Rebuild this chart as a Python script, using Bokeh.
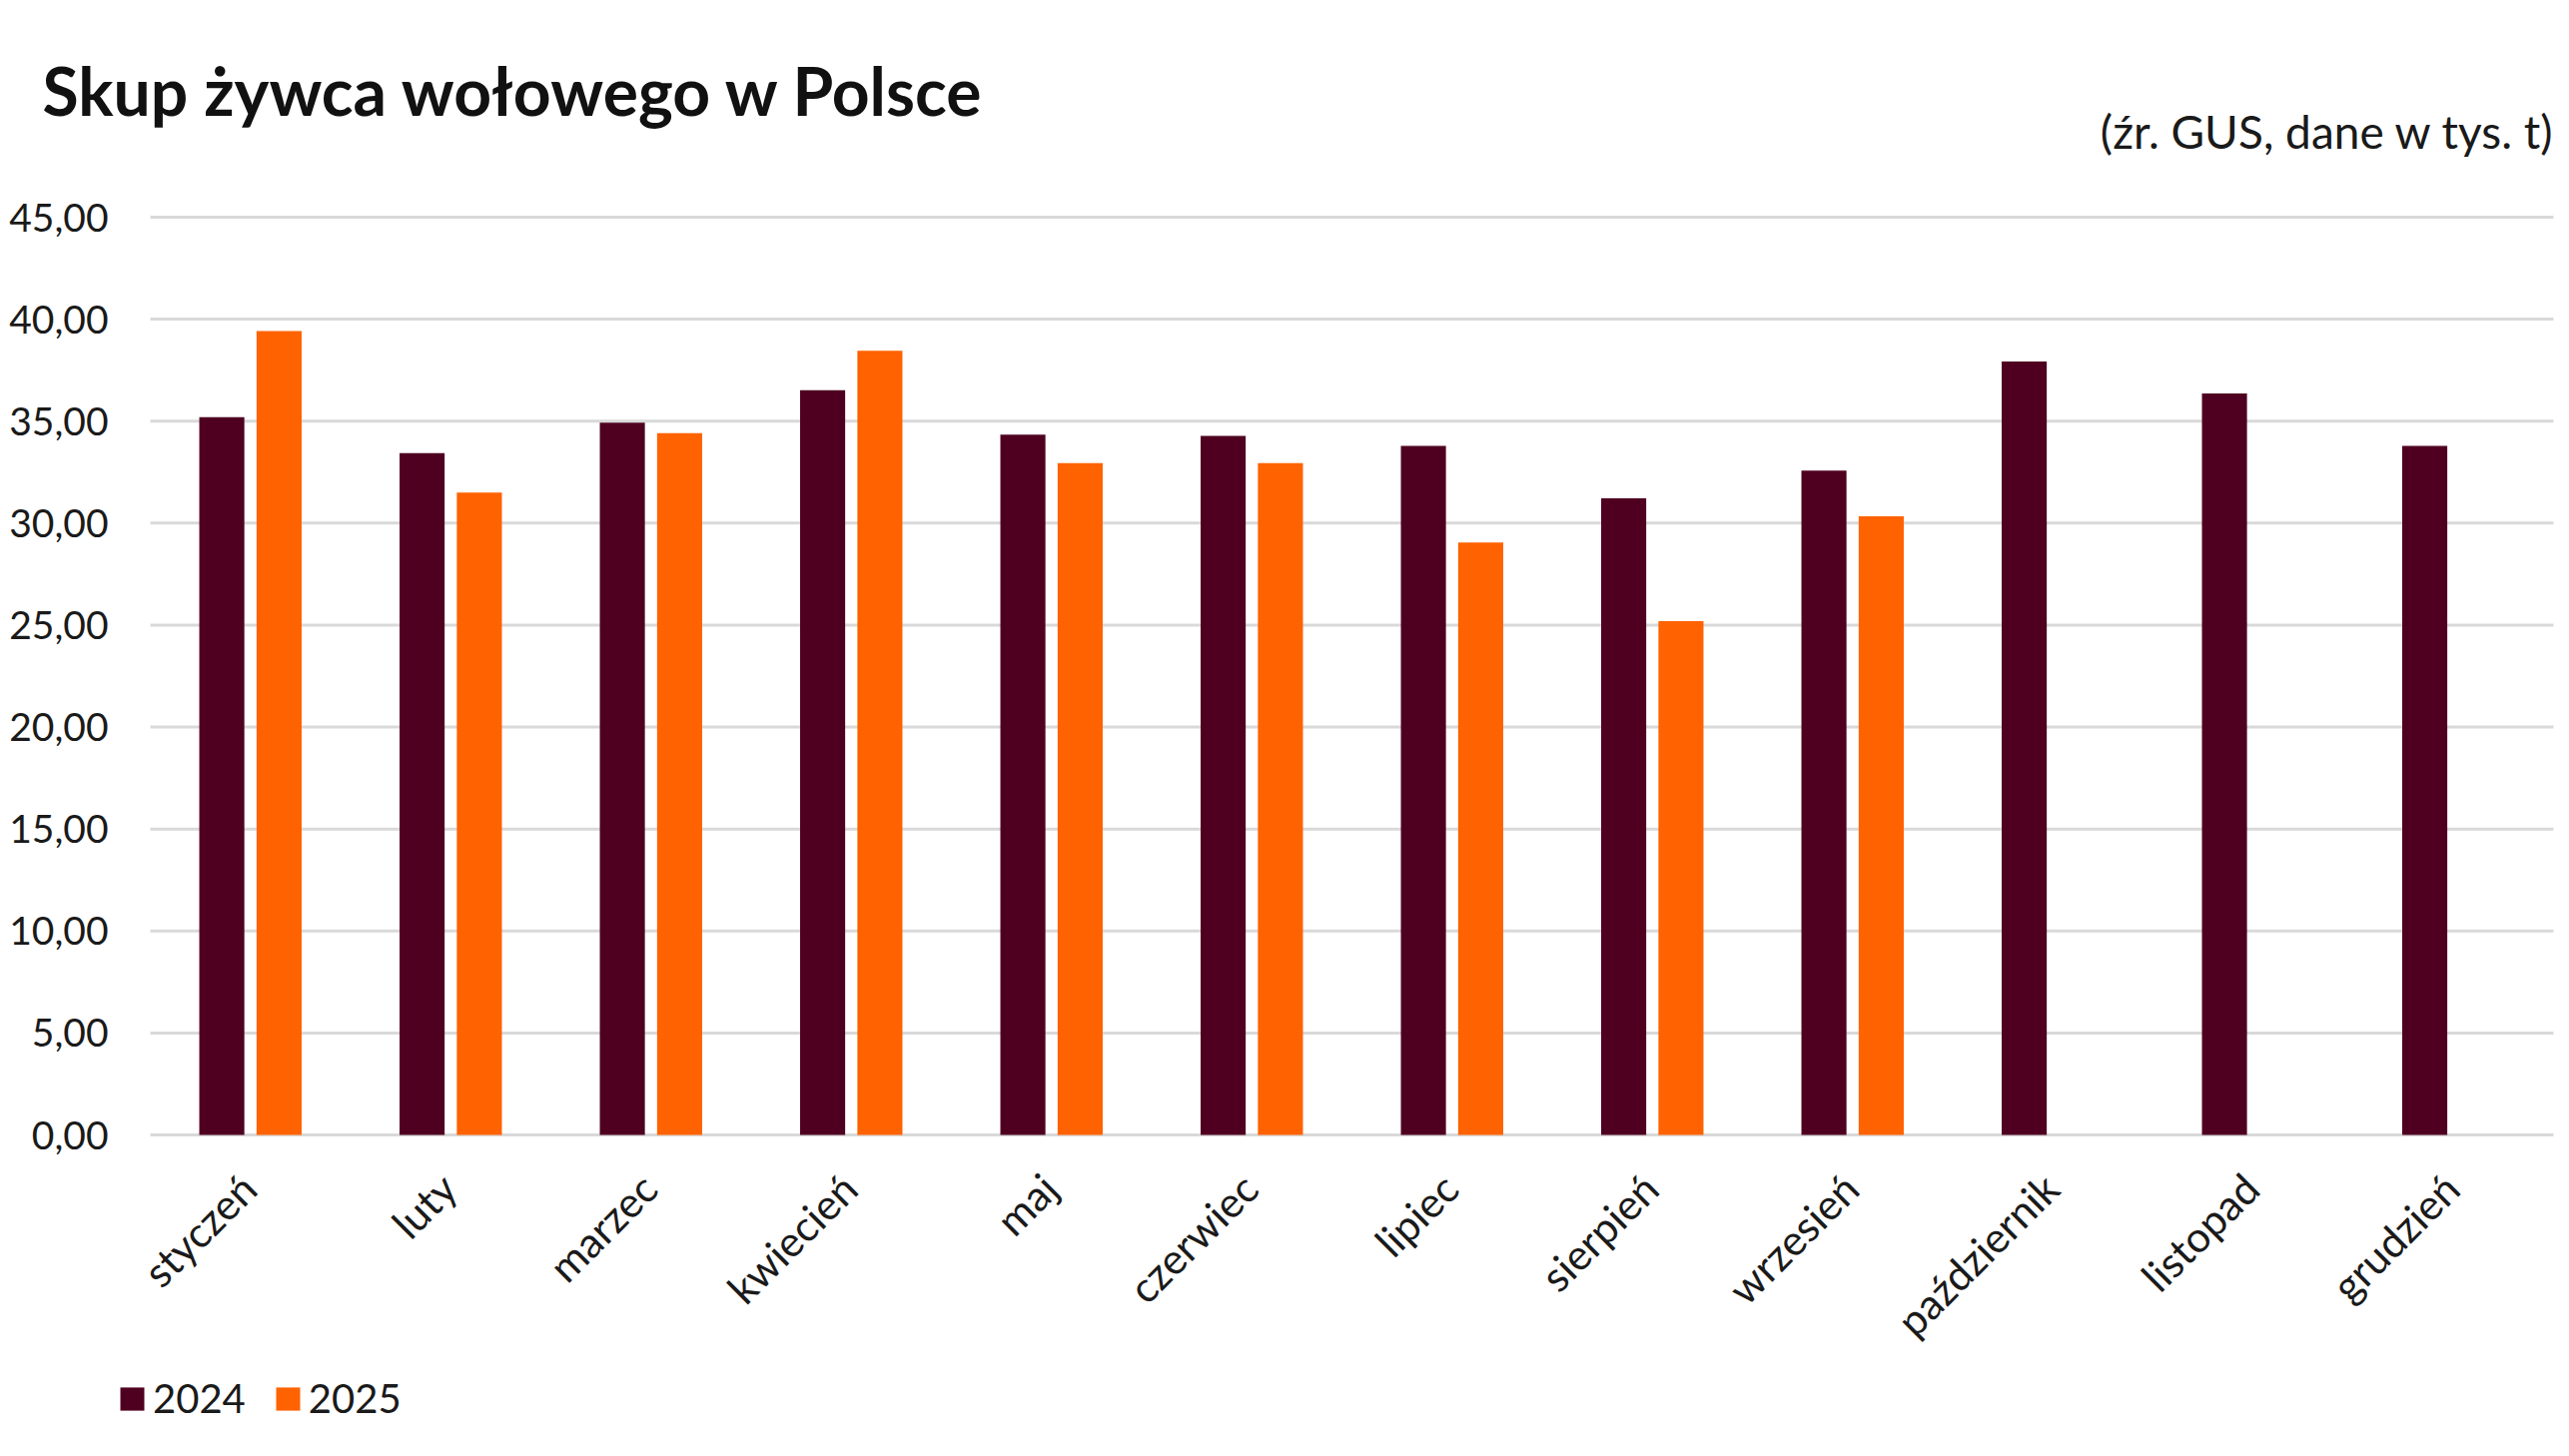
import math
from bokeh.plotting import figure
from bokeh.models import ColumnDataSource, Range1d, Legend, LegendItem
from bokeh.core.properties import value
from bokeh.transform import dodge
from bokeh.embed import file_html
from bokeh.resources import INLINE

# ---------------- data ----------------
months = ["styczeń", "luty", "marzec", "kwiecień", "maj", "czerwiec", "lipiec",
          "sierpień", "wrzesień", "październik", "listopad", "grudzień"]
y2024 = [35.20, 33.43, 34.93, 36.52, 34.34, 34.28, 33.79, 31.22, 32.57, 37.92, 36.36, 33.79]
y2025 = [39.42, 31.50, 34.41, 38.45, 32.94, 32.94, 29.05, 25.19, 30.33, None, None, None]
series_names = ["2024", "2025"]
y_ticks = [0, 5, 10, 15, 20, 25, 30, 35, 40, 45]
y_tick_labels = ["0,00", "5,00", "10,00", "15,00", "20,00", "25,00", "30,00", "35,00", "40,00", "45,00"]
title_text = "Skup żywca wołowego w Polsce"
subtitle_text = "(źr. GUS, dane w tys. t)"

# ---------------- style ----------------
C24 = "#4f0020"
C25 = "#ff6200"
GRID = "#d9d9d9"
TXT = "#1a1a1a"
FONT = "Lato"

W, H = 2572, 1458
PLOT_L, PLOT_R = 150, 2556      # pixel extent of the category area
Y0_PX, Y45_PX = 1136, 217       # pixel rows of value 0 and value 45
n = len(months)
PX_X = (PLOT_R - PLOT_L) / n
PX_Y = (Y0_PX - Y45_PX) / max(y_ticks)

x_range = Range1d(-PLOT_L / PX_X, n + (W - PLOT_R) / PX_X)
y_range = Range1d(-(H - Y0_PX) / PX_Y, Y0_PX / PX_Y)

p = figure(width=W, height=H, x_range=x_range, y_range=y_range,
           x_axis_type=None, y_axis_type=None,
           output_backend="svg", toolbar_location=None,
           min_border=0, min_border_left=0, min_border_right=0,
           min_border_top=0, min_border_bottom=0)
p.outline_line_color = None
p.background_fill_color = "white"
p.border_fill_color = "white"

xc = [i + 0.5 for i in range(n)]
src = ColumnDataSource(dict(
    x=xc,
    month=months,
    y2024=y2024,
    y2025=[v if v is not None else float("nan") for v in y2025],
))

# horizontal grid lines at the value ticks
p.segment(x0=[0] * len(y_ticks), x1=[n] * len(y_ticks), y0=y_ticks, y1=y_ticks,
          line_color=GRID, line_width=3)

# bars
r24 = p.vbar(x=dodge("x", -0.143), top="y2024", bottom=0, width=0.225,
             source=src, fill_color=C24, line_color=None)
r25 = p.vbar(x=dodge("x", 0.143), top="y2025", bottom=0, width=0.225,
             source=src, fill_color=C25, line_color=None)

# value-axis labels
p.text(x=[-42 / PX_X] * len(y_ticks), y=y_ticks, text=y_tick_labels,
       text_font=value(FONT), text_font_size="39px", text_color=TXT,
       text_align="right", text_baseline="middle")

# category labels, rotated 45 degrees
p.text(x=dodge("x", -2 / PX_X), y=-46 / PX_Y, text="month", source=src,
       angle=math.pi / 4, text_font=value(FONT), text_font_size="42px",
       text_color=TXT, text_align="right", text_baseline="middle")

# title and subtitle
p.text(x=[(42 - PLOT_L) / PX_X], y=[(Y0_PX - 90) / PX_Y], text=[title_text],
       text_font=value(FONT), text_font_style="bold", text_font_size="66px",
       text_color="#111111", text_align="left", text_baseline="alphabetic")
p.text(x=[(2557 - PLOT_L) / PX_X], y=[(Y0_PX - 131) / PX_Y], text=[subtitle_text],
       text_font=value(FONT), text_font_size="46px", text_color=TXT,
       text_align="right", text_baseline="middle")

# legend
legend = Legend(items=[LegendItem(label=series_names[0], renderers=[r24]),
                       LegendItem(label=series_names[1], renderers=[r25])],
                orientation="horizontal", location=(117, 34),
                glyph_width=30, glyph_height=29, label_standoff=6, spacing=27,
                padding=0, margin=0, border_line_color=None,
                background_fill_alpha=0,
                label_text_font=FONT, label_text_font_size="40px",
                label_text_color=TXT, label_height=23)
p.add_layout(legend, "center")

open("out.html", "w").write(file_html(p, INLINE))
